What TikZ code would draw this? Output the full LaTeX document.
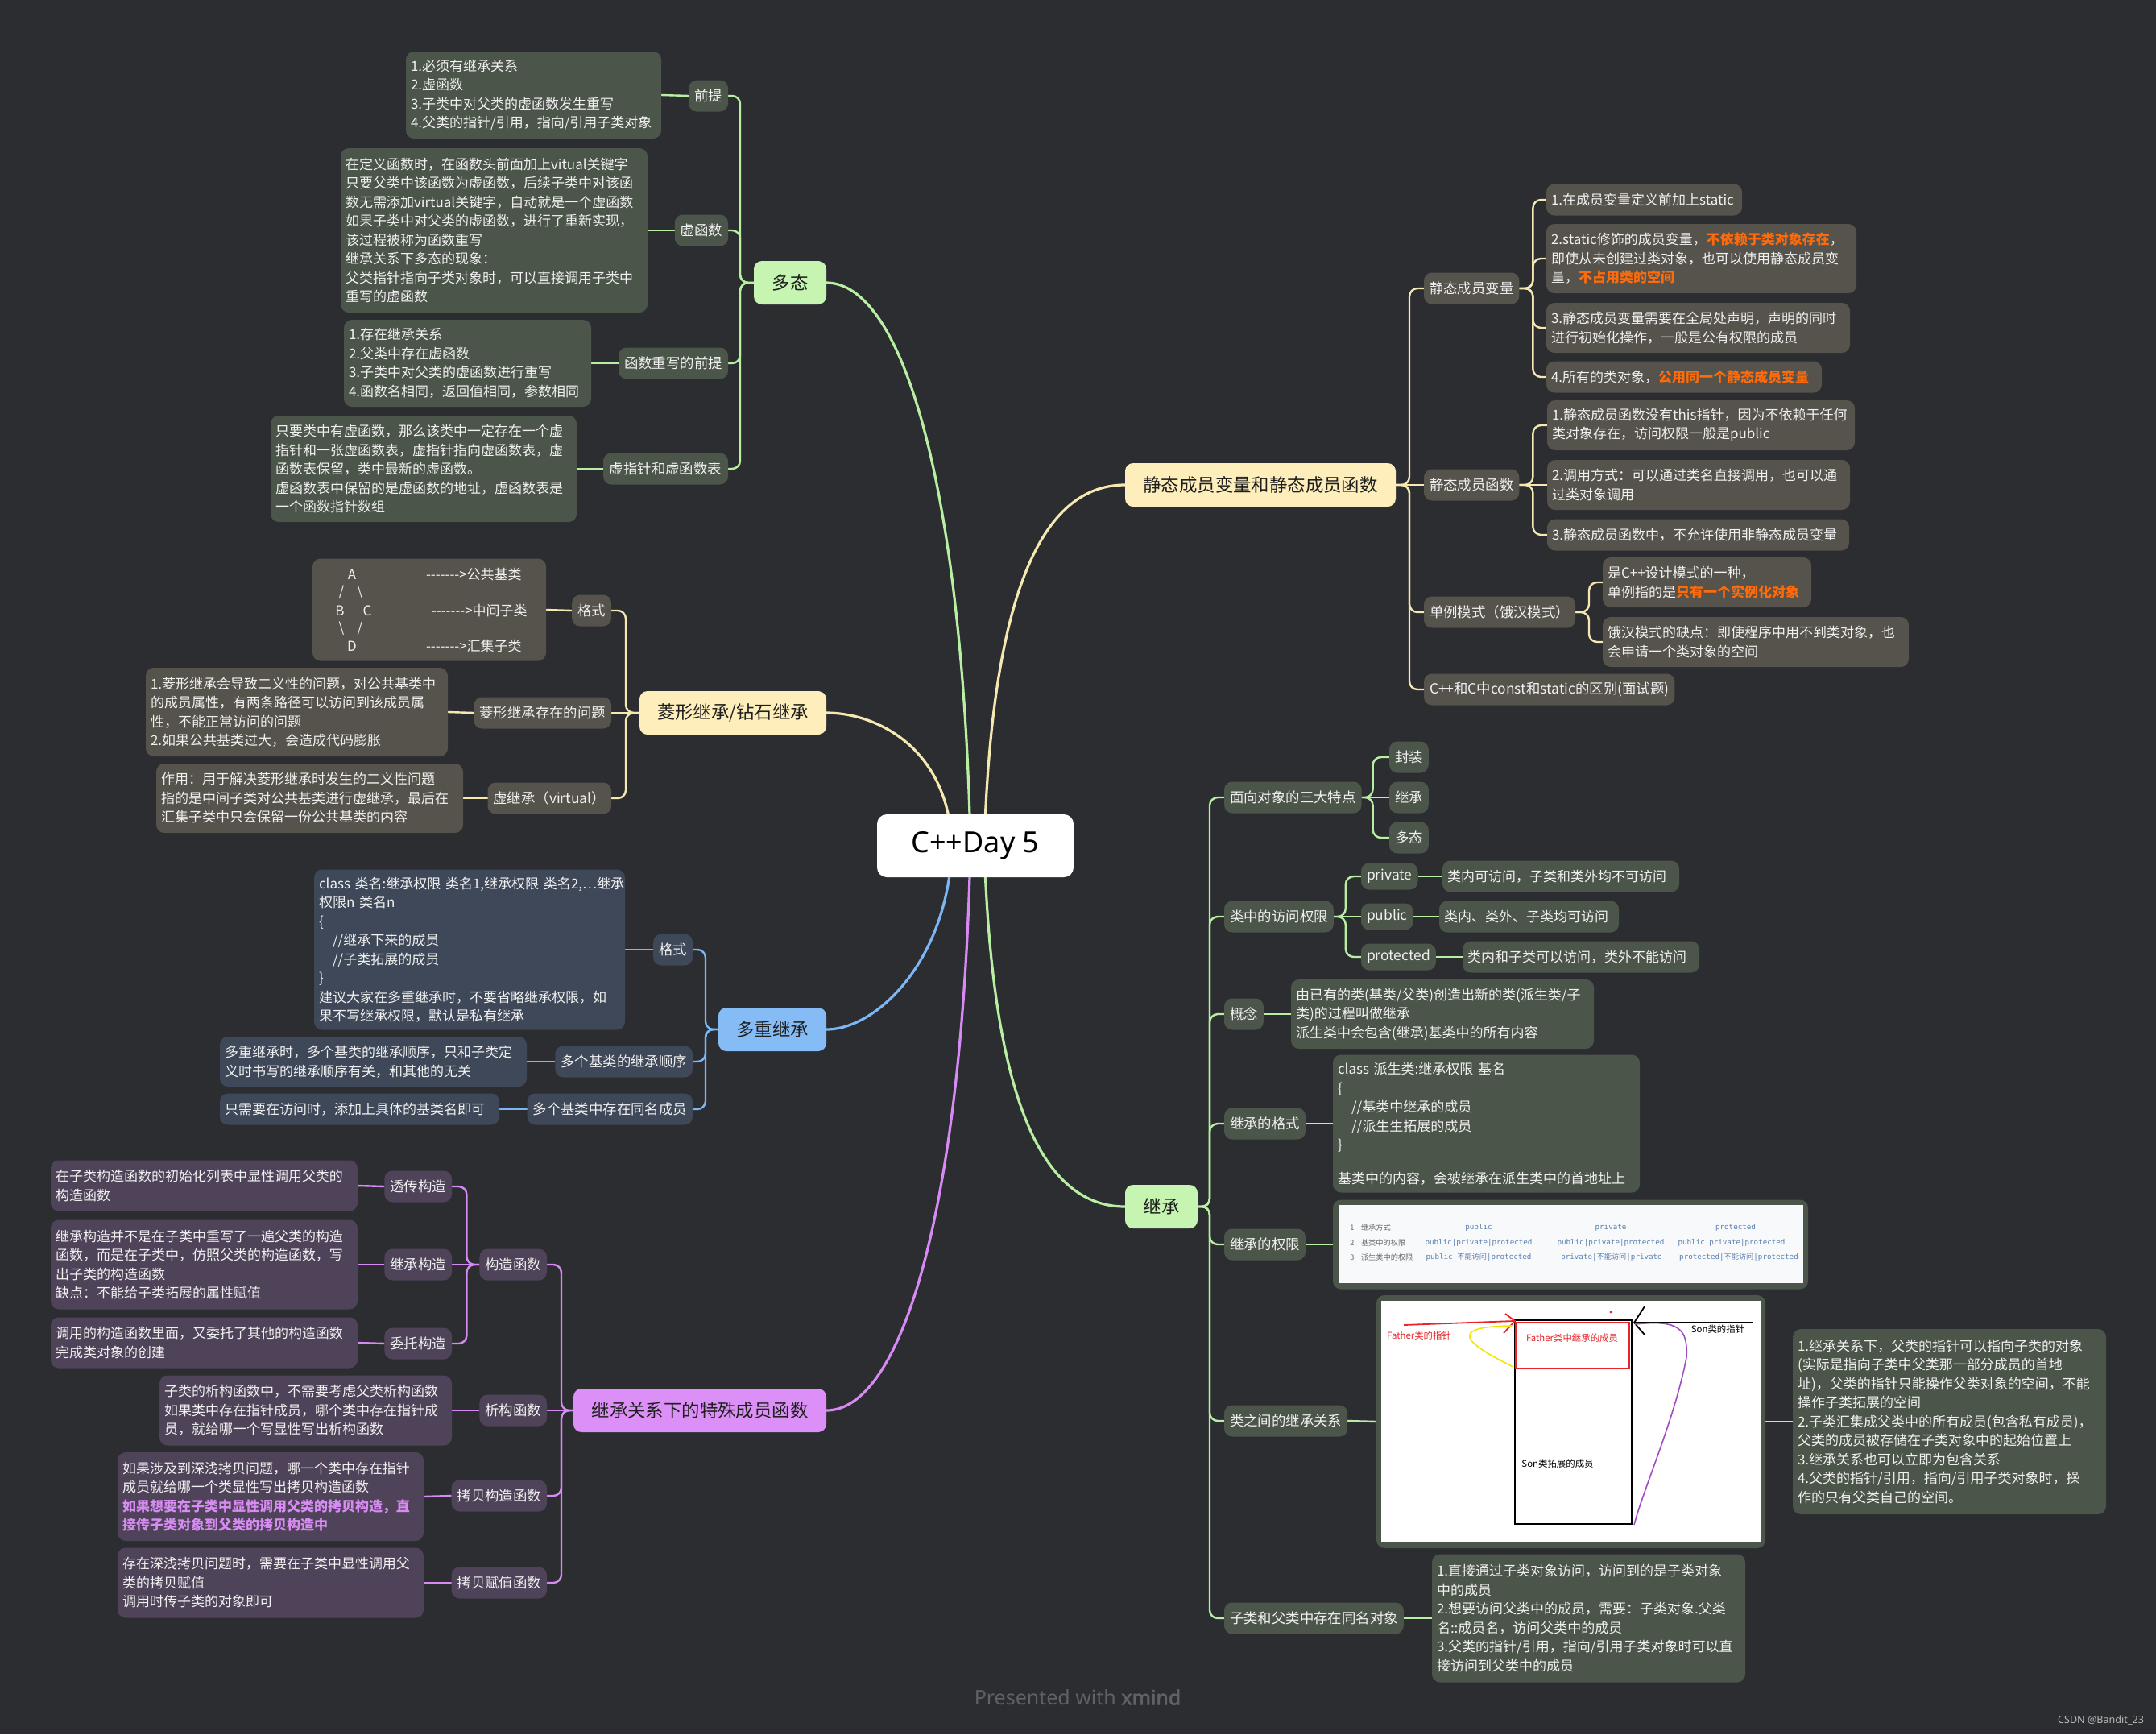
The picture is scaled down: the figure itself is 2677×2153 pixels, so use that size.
\documentclass[tikz,border=0pt]{standalone}
\usepackage{fontspec}
\setmainfont{Noto Sans CJK SC}
\newfontfamily\latinf{Noto Sans}[AutoFakeBold=2.5]
\newfontfamily\monof{DejaVu Sans Mono}
\pgfdeclarelayer{bg}
\pgfsetlayers{bg,main}
\definecolor{bgc}{HTML}{2C2D31}
\definecolor{gmain}{HTML}{C5F5B1}
\definecolor{gline}{HTML}{B8EFA2}
\definecolor{gsub}{HTML}{4B5549}
\definecolor{ymain}{HTML}{FDEEBB}
\definecolor{yline}{HTML}{F5E8B0}
\definecolor{ysub}{HTML}{55534B}
\definecolor{bmain}{HTML}{85BCF6}
\definecolor{bline}{HTML}{7DB6F5}
\definecolor{bsub}{HTML}{3E4858}
\definecolor{pmain}{HTML}{DC8FF6}
\definecolor{pline}{HTML}{D78AF4}
\definecolor{psub}{HTML}{4F4359}
\definecolor{orng}{HTML}{FF6B0A}
\definecolor{phl}{HTML}{D98BF4}
\definecolor{tblue}{HTML}{5A7FB0}
\definecolor{tgray}{HTML}{666666}
\definecolor{xm}{HTML}{606165}
\definecolor{imgbg}{HTML}{F8F9FB}
\definecolor{redl}{HTML}{E8252A}
\definecolor{yell}{HTML}{F2E600}
\definecolor{purl}{HTML}{A24BC4}
\tikzset{
  every node/.style={inner sep=0pt, outer sep=0pt},
  mainbox/.style={rounded corners=5pt, minimum height=27pt, inner xsep=4pt, font=\fontsize{11.2}{13}\selectfont, text=black!88},
  subbox/.style={rounded corners=5pt, minimum height=19.5pt, inner xsep=3.5pt, font=\fontsize{8.7}{11}\selectfont, text=white!94!black},
  cont/.style={rounded corners=5pt, inner xsep=3pt, align=left, font=\fontsize{8.5}{11.75}\selectfont, text=white!94!black},
  bx/.code 2 args={\pgfmathsetlengthmacro\bxw{(#1)*0.5pt-6pt}\pgfmathsetlengthmacro\bxh{(#2)*0.5pt}\edef\bxtmp{\noexpand\pgfkeysalso{text width=\bxw,minimum height=\bxh}}\bxtmp},
  mcurve/.style={line width=1.6pt},
  gl/.style={draw=gline, line width=1.2pt, rounded corners=5pt},
  yl/.style={draw=yline, line width=1.2pt, rounded corners=5pt},
  bl/.style={draw=bline, line width=1.2pt, rounded corners=5pt},
  pl/.style={draw=pline, line width=1.2pt, rounded corners=5pt},
  dtx/.style={font=\fontsize{8.5}{10}\selectfont, text=white!94!black},
  tbn/.style={font=\fontsize{4.6}{5}\selectfont, text=tgray},
  tbv/.style={font=\monof\fontsize{4.6}{5}\selectfont, text=tblue},
  imgt/.style={font=\fontsize{5.7}{6}\selectfont, text=black},
}
\begin{document}
\begin{tikzpicture}[x=0.5pt,y=-0.5pt]
\useasboundingbox (0,0) rectangle (2677,2153);
\begin{pgfonlayer}{bg}
\fill[bgc] (0,0) rectangle (2677,2153);
\end{pgfonlayer}

% central
\node[fill=white, rounded corners=6pt, minimum width=122pt, minimum height=39pt, font=\latinf\fontsize{18}{20}\selectfont, text=black] (root) at (1211,1050) {C++Day 5};

% main topics
\node[mainbox, fill=gmain, minimum width=45pt, anchor=east] (dt) at (1026,351) {多态};
\node[mainbox, fill=ymain, minimum width=116pt, anchor=east] (lx) at (1026,885) {菱形继承/钻石继承};
\node[mainbox, fill=bmain, minimum width=67pt, anchor=east] (dc) at (1026,1278) {多重继承};
\node[mainbox, fill=pmain, minimum width=157pt, anchor=east] (ts) at (1026,1751) {继承关系下的特殊成员函数};
\node[mainbox, fill=ymain, minimum width=168pt, anchor=west] (jt) at (1397,602) {静态成员变量和静态成员函数};
\node[mainbox, fill=gmain, minimum width=45pt, anchor=west] (jc) at (1397,1498) {继承};

% ---- 多态
\node[subbox, fill=gsub, anchor=east] (p1) at (904,119) {前提};
\node[subbox, fill=gsub, anchor=east] (p2) at (904,286) {虚函数};
\node[subbox, fill=gsub, anchor=east, minimum width=68pt] (p3) at (904,451) {函数重写的前提};
\node[subbox, fill=gsub, anchor=east, minimum width=77.5pt] (p4) at (904,582) {虚指针和虚函数表};
\node[cont, fill=gsub, bx={317}{108}, anchor=east] (p1c) at (821,118) {1.必须有继承关系\\2.虚函数\\3.子类中对父类的虚函数发生重写\\4.父类的指针/引用，指向/引用子类对象};
\node[cont, fill=gsub, bx={381}{204}, anchor=east] (p2c) at (804,286) {在定义函数时，在函数头前面加上vitual关键字\\只要父类中该函数为虚函数，后续子类中对该函\\数无需添加virtual关键字，自动就是一个虚函数\\如果子类中对父类的虚函数，进行了重新实现，\\该过程被称为函数重写\\继承关系下多态的现象：\\父类指针指向子类对象时，可以直接调用子类中\\重写的虚函数};
\node[cont, fill=gsub, bx={307}{108}, anchor=east] (p3c) at (734,451) {1.存在继承关系\\2.父类中存在虚函数\\3.子类中对父类的虚函数进行重写\\4.函数名相同，返回值相同，参数相同};
\node[cont, fill=gsub, bx={380}{132}, anchor=east] (p4c) at (716,582) {只要类中有虚函数，那么该类中一定存在一个虚\\指针和一张虚函数表，虚指针指向虚函数表，虚\\函数表保留，类中最新的虚函数。\\虚函数表中保留的是虚函数的地址，虚函数表是\\一个函数指针数组};

% ---- 菱形
\node[subbox, fill=ysub, anchor=east] (d1) at (759,758) {格式};
\node[subbox, fill=ysub, anchor=east] (d2) at (759,885) {菱形继承存在的问题};
\node[subbox, fill=ysub, anchor=east] (d3) at (759,991) {虚继承（virtual）};
\node[cont, fill=ysub, bx={290}{127}, anchor=east] (d1c) at (678,757) {};
\node[dtx] (dA) at (437,713) {A};
\node[dtx] (ds1) at (424,735) {/};
\node[dtx] (ds2) at (447,735) {\textbackslash};
\node[dtx] (dB) at (422,758) {B};
\node[dtx] (dC) at (456,758) {C};
\node[dtx] (ds3) at (424,780) {\textbackslash};
\node[dtx] (ds4) at (447,780) {/};
\node[dtx] (dD) at (437,802) {D};
\node[dtx, anchor=west] (da1) at (529,713) {-{}-{}-{}-{}-{}-{}->公共基类};
\node[dtx, anchor=west] (da2) at (536,758) {-{}-{}-{}-{}-{}-{}->中间子类};
\node[dtx, anchor=west] (da3) at (529,802) {-{}-{}-{}-{}-{}-{}->汇集子类};
\node[cont, fill=ysub, bx={375}{110}, anchor=east] (d2c) at (556,884) {1.菱形继承会导致二义性的问题，对公共基类中\\的成员属性，有两条路径可以访问到该成员属\\性，不能正常访问的问题\\2.如果公共基类过大，会造成代码膨胀};
\node[cont, fill=ysub, bx={381}{86}, anchor=east] (d3c) at (575,991) {作用：用于解决菱形继承时发生的二义性问题\\指的是中间子类对公共基类进行虚继承，最后在\\汇集子类中只会保留一份公共基类的内容};

% ---- 多重继承
\node[subbox, fill=bsub, anchor=east] (m1) at (860,1179) {格式};
\node[subbox, fill=bsub, anchor=east] (m2) at (860,1318) {多个基类的继承顺序};
\node[subbox, fill=bsub, anchor=east] (m3) at (860,1377) {多个基类中存在同名成员};
\node[cont, fill=bsub, bx={386}{199}, anchor=east] (m1c) at (776,1179) {class~类名:继承权限~类名1,继承权限~类名2,…继承\\权限n~类名n\\\{\\\hspace*{1em}//继承下来的成员\\\hspace*{1em}//子类拓展的成员\\\}\\建议大家在多重继承时，不要省略继承权限，如\\果不写继承权限，默认是私有继承};
\node[cont, fill=bsub, bx={381}{62}, anchor=east] (m2c) at (654,1318) {多重继承时，多个基类的继承顺序，只和子类定\\义时书写的继承顺序有关，和其他的无关};
\node[cont, fill=bsub, bx={347}{39}, anchor=east] (m3c) at (620,1377) {只需要在访问时，添加上具体的基类名即可};

% ---- 特殊成员函数
\node[subbox, fill=psub, anchor=east] (s1) at (679,1570) {构造函数};
\node[subbox, fill=psub, anchor=east] (s2) at (679,1751) {析构函数};
\node[subbox, fill=psub, anchor=east] (s3) at (679,1857) {拷贝构造函数};
\node[subbox, fill=psub, anchor=east] (s4) at (679,1965) {拷贝赋值函数};
\node[subbox, fill=psub, anchor=east] (s11) at (561,1473) {透传构造};
\node[subbox, fill=psub, anchor=east] (s12) at (561,1570) {继承构造};
\node[subbox, fill=psub, anchor=east] (s13) at (561,1668) {委托构造};
\node[cont, fill=psub, bx={381}{63}, anchor=east] (s11c) at (444,1472) {在子类构造函数的初始化列表中显性调用父类的\\构造函数};
\node[cont, fill=psub, bx={381}{111}, anchor=east] (s12c) at (444,1570) {继承构造并不是在子类中重写了一遍父类的构造\\函数，而是在子类中，仿照父类的构造函数，写\\出子类的构造函数\\缺点：不能给子类拓展的属性赋值};
\node[cont, fill=psub, bx={381}{63}, anchor=east] (s13c) at (444,1667) {调用的构造函数里面，又委托了其他的构造函数\\完成类对象的创建};
\node[cont, fill=psub, bx={363}{87}, anchor=east] (s2c) at (561,1751) {子类的析构函数中，不需要考虑父类析构函数\\如果类中存在指针成员，哪个类中存在指针成\\员，就给哪一个写显性写出析构函数};
\node[cont, fill=psub, bx={380}{110}, anchor=east] (s3c) at (526,1858) {如果涉及到深浅拷贝问题，哪一个类中存在指针\\成员就给哪一个类显性写出拷贝构造函数\\{\color{phl}\bfseries 如果想要在子类中显性调用父类的拷贝构造，直}\\{\color{phl}\bfseries 接传子类对象到父类的拷贝构造中}};
\node[cont, fill=psub, bx={380}{87}, anchor=east] (s4c) at (526,1965) {存在深浅拷贝问题时，需要在子类中显性调用父\\类的拷贝赋值\\调用时传子类的对象即可};

% ---- 静态
\node[subbox, fill=ysub, anchor=west] (a1) at (1768,358) {静态成员变量};
\node[subbox, fill=ysub, anchor=west] (a2) at (1768,602) {静态成员函数};
\node[subbox, fill=ysub, anchor=west] (a3) at (1768,760) {单例模式（饿汉模式）};
\node[subbox, fill=ysub, anchor=west] (a4) at (1768,856) {C++和C中const和static的区别(面试题)};
\node[cont, fill=ysub, bx={243}{39}, anchor=west] (a11) at (1920,248) {1.在成员变量定义前加上static};
\node[cont, fill=ysub, bx={385}{86}, anchor=west] (a12) at (1920,321) {2.static修饰的成员变量，{\color{orng}\bfseries 不依赖于类对象存在}，\\即使从未创建过类对象，也可以使用静态成员变\\量，{\color{orng}\bfseries 不占用类的空间}};
\node[cont, fill=ysub, bx={377}{62}, anchor=west] (a13) at (1920,407) {3.静态成员变量需要在全局处声明，声明的同时\\进行初始化操作，一般是公有权限的成员};
\node[cont, fill=ysub, bx={342}{39}, anchor=west] (a14) at (1920,468) {4.所有的类对象，{\color{orng}\bfseries 公用同一个静态成员变量}};
\node[cont, fill=ysub, bx={382}{62}, anchor=west] (a21) at (1921,528) {1.静态成员函数没有this指针，因为不依赖于任何\\类对象存在，访问权限一般是public};
\node[cont, fill=ysub, bx={376}{62}, anchor=west] (a22) at (1921,602) {2.调用方式：可以通过类名直接调用，也可以通\\过类对象调用};
\node[cont, fill=ysub, bx={375}{39}, anchor=west] (a23) at (1921,664) {3.静态成员函数中，不允许使用非静态成员变量};
\node[cont, fill=ysub, bx={259}{62}, anchor=west] (a31) at (1990,723) {是C++设计模式的一种，\\单例指的是{\color{orng}\bfseries 只有一个实例化对象}};
\node[cont, fill=ysub, bx={380}{62}, anchor=west] (a32) at (1990,797) {饿汉模式的缺点：即使程序中用不到类对象，也\\会申请一个类对象的空间};

% ---- 继承
\node[subbox, fill=gsub, anchor=west] (i1) at (1520,990) {面向对象的三大特点};
\node[subbox, fill=gsub, anchor=west] (i2) at (1520,1138) {类中的访问权限};
\node[subbox, fill=gsub, anchor=west] (i3) at (1520,1259) {概念};
\node[subbox, fill=gsub, anchor=west] (i4) at (1520,1395) {继承的格式};
\node[subbox, fill=gsub, anchor=west] (i5) at (1520,1545) {继承的权限};
\node[subbox, fill=gsub, anchor=west] (i6) at (1520,1764) {类之间的继承关系};
\node[subbox, fill=gsub, anchor=west] (i7) at (1520,2009) {子类和父类中存在同名对象};
\node[subbox, fill=gsub, anchor=west] (i11) at (1725,940) {封装};
\node[subbox, fill=gsub, anchor=west] (i12) at (1725,990) {继承};
\node[subbox, fill=gsub, anchor=west] (i13) at (1725,1040) {多态};
\node[subbox, fill=gsub, anchor=west, minimum height=16.5pt] (i21) at (1690,1088) {private};
\node[subbox, fill=gsub, anchor=west, minimum height=16.5pt] (i22) at (1690,1138) {public};
\node[subbox, fill=gsub, anchor=west, minimum height=16.5pt] (i23) at (1690,1188) {protected};
\node[cont, fill=gsub, bx={294}{39}, anchor=west] (i21c) at (1791,1088) {类内可访问，子类和类外均不可访问};
\node[cont, fill=gsub, bx={223}{39}, anchor=west] (i22c) at (1787,1138) {类内、类外、子类均可访问};
\node[cont, fill=gsub, bx={294}{39}, anchor=west] (i23c) at (1816,1188) {类内和子类可以访问，类外不能访问};
\node[cont, fill=gsub, bx={376}{86}, anchor=west] (i3c) at (1603,1259) {由已有的类(基类/父类)创造出新的类(派生类/子\\类)的过程叫做继承\\派生类中会包含(继承)基类中的所有内容};
\node[cont, fill=gsub, bx={381}{171}, anchor=west] (i4c) at (1655,1395) {class~派生类:继承权限~基名\\\{\\\hspace*{1em}//基类中继承的成员\\\hspace*{1em}//派生生拓展的成员\\\}\\[9pt]基类中的内容，会被继承在派生类中的首地址上};
\node[fill=gsub, rounded corners=5pt, minimum width=295pt, minimum height=55.5pt, anchor=west] (i5c) at (1655,1545) {};
\node[fill=gsub, rounded corners=5pt, minimum width=241.5pt, minimum height=157pt, anchor=west] (i6c) at (1709,1765) {};
\node[cont, fill=gsub, bx={389}{230}, anchor=west] (i6t) at (2226,1765) {1.继承关系下，父类的指针可以指向子类的对象\\(实际是指向子类中父类那一部分成员的首地\\址)，父类的指针只能操作父类对象的空间，不能\\操作子类拓展的空间\\2.子类汇集成父类中的所有成员(包含私有成员)，\\父类的成员被存储在子类对象中的起始位置上\\3.继承关系也可以立即为包含关系\\4.父类的指针/引用，指向/引用子类对象时，操\\作的只有父类自己的空间。};
\node[cont, fill=gsub, bx={389}{159}, anchor=west] (i7c) at (1778,2009) {1.直接通过子类对象访问，访问到的是子类对象\\中的成员\\2.想要访问父类中的成员，需要：子类对象.父类\\名::成员名，访问父类中的成员\\3.父类的指针/引用，指向/引用子类对象时可以直\\接访问到父类中的成员};

% table image
\fill[imgbg] (1663,1496) rectangle (2239,1593);
\node[tbn] (tr1) at (1679,1524) {1};
\node[tbn] (tr2) at (1679,1543) {2};
\node[tbn] (tr3) at (1679,1561) {3};
\node[tbn, anchor=west] (tl1) at (1690,1524) {继承方式};
\node[tbn, anchor=west] (tl2) at (1690,1543) {基类中的权限};
\node[tbn, anchor=west] (tl3) at (1690,1561) {派生类中的权限};
\node[tbv] (th1) at (1836,1524) {public};
\node[tbv] (th2) at (2000,1524) {private};
\node[tbv] (th3) at (2155,1524) {protected};
\node[tbv] (tv11) at (1836,1543) {public|private|protected};
\node[tbv] (tv12) at (2000,1543) {public|private|protected};
\node[tbv] (tv13) at (2150,1543) {public|private|protected};
\node[tbv] (tv21) at (1836,1561) {public|{\rmfamily 不能访问}|protected};
\node[tbv] (tv22) at (2001,1561) {private|{\rmfamily 不能访问}|private};
\node[tbv] (tv23) at (2159,1561) {protected|{\rmfamily 不能访问}|protected};

% memory image
\fill[white] (1715,1615) rectangle (2186,1915);
\draw[black, line width=1.1pt] (1881,1639) rectangle (2026,1892);
\draw[redl, line width=1pt] (1882,1642) rectangle (2023,1699);
\draw[redl, line width=0.9pt] (1743,1645) -- (1880,1640);
\draw[redl, line width=0.9pt] (1869,1631) -- (1881,1640) -- (1867,1655);
\draw[black, line width=0.9pt] (2177,1642) -- (2029,1642);
\draw[black, line width=0.9pt] (2042,1622) -- (2029,1642) -- (2042,1657);
\draw[yell, line width=0.8pt] (1877,1646) .. controls (1795,1647) and (1820,1668) .. (1879,1697);
\draw[purl, line width=0.8pt] (2030,1644) .. controls (2085,1638) and (2096,1650) .. (2094,1685) .. controls (2080,1760) and (2040,1850) .. (2029,1893);
\fill[redl] (2000,1629) circle (0.8pt);
\node[imgt, text=redl] (ft1) at (1762,1658) {Father类的指针};
\node[imgt, text=redl] (ft2) at (1952,1661) {Father类中继承的成员};
\node[imgt] (st1) at (1934,1817) {Son类拓展的成员};
\node[imgt] (st2) at (2133,1650) {Son类的指针};

% footer
\node[font=\latinf\fontsize{12.5}{14}\selectfont, text=xm] (pw) at (1338,2107) {Presented with \textbf{xmind}};
\node[font=\latinf\fontsize{6.3}{7}\selectfont, text=white!72!black, anchor=east] (csdn) at (2662,2136) {CSDN @Bandit\_23};

\begin{pgfonlayer}{bg}
% main curves
\draw[mcurve, gline] (1205,1050) .. controls (1195,600) and (1120,351) .. (dt.east);
\draw[mcurve, yline] (1182,1050) .. controls (1178,930) and (1090,885) .. (lx.east);
\draw[mcurve, bline] (1182,1050) .. controls (1178,1190) and (1090,1278) .. (dc.east);
\draw[mcurve, pline] (1205,1050) .. controls (1195,1500) and (1120,1751) .. (ts.east);
\draw[mcurve, yline] (1222,1050) .. controls (1232,720) and (1300,602) .. (jt.west);
\draw[mcurve, gline] (1222,1050) .. controls (1232,1380) and (1300,1498) .. (jc.west);
% 多态
\draw[gl] (dt.west) -- ++(-17,0) |- (p1.east);
\draw[gl] (dt.west) -- ++(-17,0) |- (p2.east);
\draw[gl] (dt.west) -- ++(-17,0) |- (p3.east);
\draw[gl] (dt.west) -- ++(-17,0) |- (p4.east);
\draw[gl] (p1.west) -- (p1c.east);
\draw[gl] (p2.west) -- (p2c.east);
\draw[gl] (p3.west) -- (p3c.east);
\draw[gl] (p4.west) -- (p4c.east);
% 菱形
\draw[yl] (lx.west) -- ++(-17,0) |- (d1.east);
\draw[yl] (lx.west) -- (d2.east);
\draw[yl] (lx.west) -- ++(-17,0) |- (d3.east);
\draw[yl] (d1.west) -- (d1c.east);
\draw[yl] (d2.west) -- (d2c.east);
\draw[yl] (d3.west) -- (d3c.east);
% 多重
\draw[bl] (dc.west) -- ++(-16,0) |- (m1.east);
\draw[bl] (dc.west) -- ++(-16,0) |- (m2.east);
\draw[bl] (dc.west) -- ++(-16,0) |- (m3.east);
\draw[bl] (m1.west) -- (m1c.east);
\draw[bl] (m2.west) -- (m2c.east);
\draw[bl] (m3.west) -- (m3c.east);
% 特殊
\draw[pl] (ts.west) -- ++(-15,0) |- (s1.east);
\draw[pl] (ts.west) -- (s2.east);
\draw[pl] (ts.west) -- ++(-15,0) |- (s3.east);
\draw[pl] (ts.west) -- ++(-15,0) |- (s4.east);
\draw[pl] (s1.west) -- ++(-16,0) |- (s11.east);
\draw[pl] (s1.west) -- (s12.east);
\draw[pl] (s1.west) -- ++(-16,0) |- (s13.east);
\draw[pl] (s11.west) -- (s11c.east);
\draw[pl] (s12.west) -- (s12c.east);
\draw[pl] (s13.west) -- (s13c.east);
\draw[pl] (s2.west) -- (s2c.east);
\draw[pl] (s3.west) -- (s3c.east);
\draw[pl] (s4.west) -- (s4c.east);
% 静态
\draw[yl] (jt.east) -- ++(17,0) |- (a1.west);
\draw[yl] (jt.east) -- (a2.west);
\draw[yl] (jt.east) -- ++(17,0) |- (a3.west);
\draw[yl] (jt.east) -- ++(17,0) |- (a4.west);
\draw[yl] (a1.east) -- ++(17,0) |- (a11.west);
\draw[yl] (a1.east) -- ++(17,0) |- (a12.west);
\draw[yl] (a1.east) -- ++(17,0) |- (a13.west);
\draw[yl] (a1.east) -- ++(17,0) |- (a14.west);
\draw[yl] (a2.east) -- ++(17,0) |- (a21.west);
\draw[yl] (a2.east) -- (a22.west);
\draw[yl] (a2.east) -- ++(17,0) |- (a23.west);
\draw[yl] (a3.east) -- ++(17,0) |- (a31.west);
\draw[yl] (a3.east) -- ++(17,0) |- (a32.west);
% 继承
\draw[gl] (jc.east) -- ++(15,0) |- (i1.west);
\draw[gl] (jc.east) -- ++(15,0) |- (i2.west);
\draw[gl] (jc.east) -- ++(15,0) |- (i3.west);
\draw[gl] (jc.east) -- ++(15,0) |- (i4.west);
\draw[gl] (jc.east) -- ++(15,0) |- (i5.west);
\draw[gl] (jc.east) -- ++(15,0) |- (i6.west);
\draw[gl] (jc.east) -- ++(15,0) |- (i7.west);
\draw[gl] (i1.east) -- ++(14,0) |- (i11.west);
\draw[gl] (i1.east) -- (i12.west);
\draw[gl] (i1.east) -- ++(14,0) |- (i13.west);
\draw[gl] (i2.east) -- ++(15,0) |- (i21.west);
\draw[gl] (i2.east) -- (i22.west);
\draw[gl] (i2.east) -- ++(15,0) |- (i23.west);
\draw[gl] (i21.east) -- (i21c.west);
\draw[gl] (i22.east) -- (i22c.west);
\draw[gl] (i23.east) -- (i23c.west);
\draw[gl] (i3.east) -- (i3c.west);
\draw[gl] (i4.east) -- (i4c.west);
\draw[gl] (i5.east) -- (i5c.west);
\draw[gl] (i6.east) -- (i6c.west);
\draw[gl] (i6c.east) -- (i6t.west);
\draw[gl] (i7.east) -- (i7c.west);
\end{pgfonlayer}
\end{tikzpicture}
\end{document}
